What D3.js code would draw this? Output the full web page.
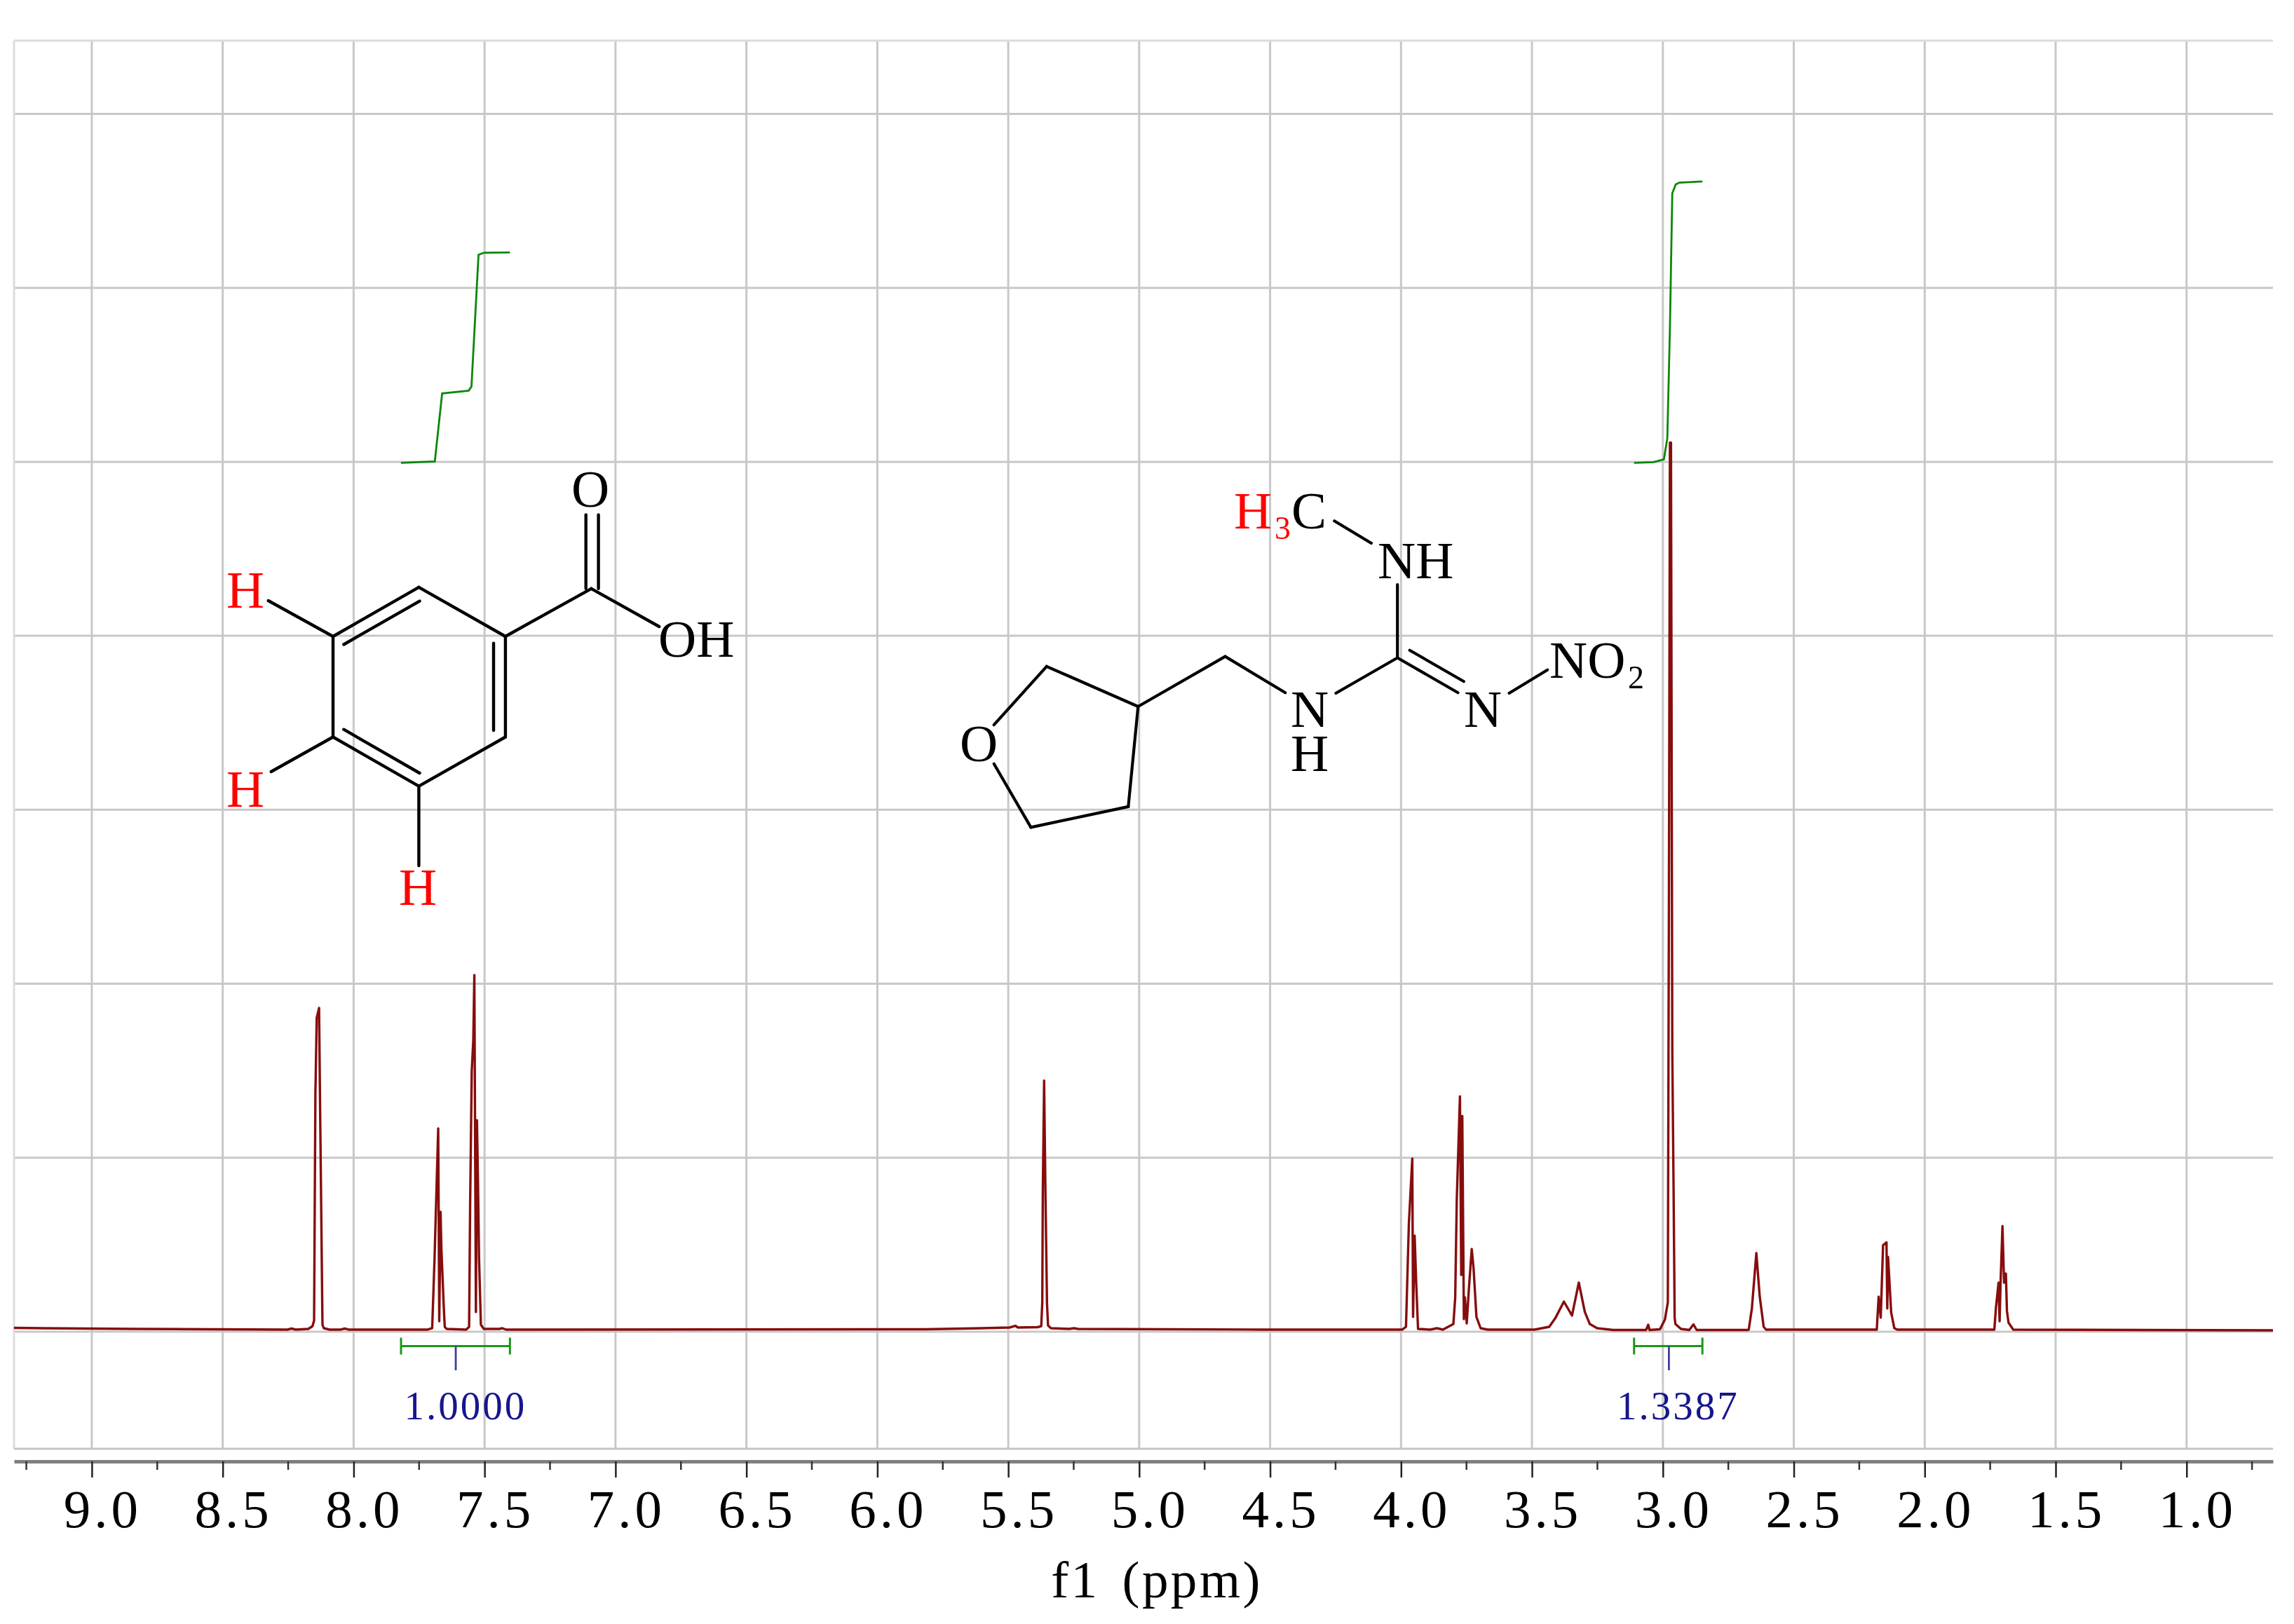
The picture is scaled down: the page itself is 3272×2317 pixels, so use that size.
<!DOCTYPE html>
<html>
<head>
<meta charset="utf-8">
<style>
  html, body { margin: 0; padding: 0; background: #fff; }
  text { font-family: "Liberation Serif", serif; }
</style>
<script src="https://cdn.jsdelivr.net/npm/d3@7"></script>
</head>
<body>
<svg id="espectro"></svg>
<script>
// spectrum: chemical shift and intensity (in grid steps)
const specPpm = [9.297, 9.190, 8.842, 8.547, 8.253, 8.237, 8.221, 8.173, 8.157, 8.151, 8.146, 8.141, 8.132, 8.128, 8.119, 8.114,
  8.092, 8.049, 8.034, 8.020, 7.717, 7.700, 7.691, 7.683, 7.677, 7.673, 7.668, 7.665, 7.656, 7.652, 7.645, 7.570,
  7.559, 7.555, 7.549, 7.543, 7.539, 7.533, 7.529, 7.525, 7.521, 7.514, 7.503, 7.444, 7.432, 7.418, 5.816, 5.602,
  5.495, 5.473, 5.463, 5.388, 5.374, 5.370, 5.368, 5.363, 5.358, 5.352, 5.348, 5.337, 5.267, 5.249, 5.233, 4.531,
  3.995, 3.981, 3.970, 3.957, 3.954, 3.948, 3.942, 3.935, 3.888, 3.863, 3.840, 3.800, 3.793, 3.787, 3.775, 3.770,
  3.766, 3.760, 3.756, 3.749, 3.741, 3.730, 3.723, 3.712, 3.696, 3.669, 3.490, 3.434, 3.411, 3.378, 3.347, 3.321,
  3.298, 3.279, 3.251, 3.190, 3.064, 3.056, 3.051, 3.011, 2.992, 2.981, 2.977, 2.973, 2.969, 2.964, 2.959, 2.955,
  2.952, 2.931, 2.899, 2.883, 2.871, 2.678, 2.672, 2.660, 2.643, 2.630, 2.615, 2.606, 2.183, 2.176, 2.168, 2.159,
  2.146, 2.143, 2.140, 2.128, 2.116, 2.105, 1.734, 1.728, 1.718, 1.714, 1.710, 1.703, 1.697, 1.690, 1.686, 1.680,
  1.662, 0.670];
const specInt = [.022, .020, .016, .014, .012, .018, .012, .016, .032, .064, 1.369, 1.804, 1.861, 1.281, .040, .020,
  .012, .012, .018, .012, .012, .020, .419, .850, 1.168, .060, .689, .483, .149, .028, .016, .012,
  .028, .741, 1.496, 1.675, 2.050, .113, 1.216, .850, .419, .040, .016, .016, .020, .012, .014, .020,
  .024, .034, .024, .026, .032, .169, .805, 1.443, .805, .161, .036, .020, .016, .020, .016, .012,
  .012, .028, .622, .995, .085, .552, .282, .016, .012, .020, .012, .044, .197, .765, 1.353, .326,
  1.240, .072, .197, .048, .242, .475, .366, .085, .020, .012, .012, .028, .077, .173, .093, .282,
  .113, .044, .020, .010, .010, .040, .010, .014, .070, .169, 2.416, 5.111, 5.111, 1.611, .805, .081,
  .044, .016, .010, .042, .010, .010, .012, .134, .452, .201, .028, .012, .012, .201, .081, .497,
  .513, .134, .430, .109, .020, .012, .012, .137, .282, .060, .295, .607, .282, .334, .120, .052,
  .012, .008];

// integral curves
const int1Ppm = [7.819, 7.690, 7.662, 7.561, 7.550, 7.523, 7.502, 7.403];
const int1Val = [4.994, 5.002, 5.393, 5.409, 5.433, 6.190, 6.202, 6.204];
const int2Ppm = [3.110, 3.036, 2.996, 2.983, 2.973, 2.964, 2.951, 2.938, 2.849];
const int2Val = [4.994, 4.998, 5.014, 5.135, 5.772, 6.544, 6.594, 6.605, 6.612];

// integral brackets under the peaks
const bracketFrom = [7.819, 3.110];
const bracketTo = [7.403, 2.849];
const bracketMark = [7.610, 2.977];
const bracketLabelPpm = [7.573, 2.942];
const bracketLabels = ["1.0000", "1.3387"];

// axis
const majorTicks = [9.0, 8.5, 8.0, 7.5, 7.0, 6.5, 6.0, 5.5, 5.0, 4.5, 4.0, 3.5, 3.0, 2.5, 2.0, 1.5, 1.0];
const minorTicks = [9.25, 8.75, 8.25, 7.75, 7.25, 6.75, 6.25, 5.75, 5.25, 4.75, 4.25, 3.75, 3.25, 2.75, 2.25, 1.75, 1.25, 0.75];
const gridSteps = [0, 1, 2, 3, 4, 5, 6, 7];

const width = 3272, height = 2317;
const left = 20, right = 3242, top_ = 58, bottom = 2067, axisY = 2085;

let svg = d3.select("#espectro")
  .attr("width", width)
  .attr("height", height)
  .attr("viewBox", "0 0 " + width + " " + height)
  .style("display", "block");

// the reference is a soft scan, so everything goes through a light blur
svg.append("filter").attr("id", "suave")
  .attr("filterUnits", "userSpaceOnUse")
  .attr("x", 0).attr("y", 0)
  .attr("width", width).attr("height", height)
  .append("feGaussianBlur").attr("stdDeviation", 0.7);

let root = svg.append("g").attr("filter", "url(#suave)");
root.append("rect").attr("width", width).attr("height", height).attr("fill", "#fff");

let x = d3.scaleLinear().domain([9.297, 0.670]).range([left, right]);
let y = d3.scaleLinear().domain([-0.673, 7.421]).range([bottom, top_]);

// grid
let grid = root.append("g");
grid.selectAll("line.v").data(majorTicks).enter().append("line")
  .attr("class", "v")
  .attr("x1", d => x(d)).attr("x2", d => x(d))
  .attr("y1", top_).attr("y2", bottom)
  .attr("stroke", "#c8c8c8").attr("stroke-width", 3);
grid.selectAll("line.h").data(gridSteps).enter().append("line")
  .attr("class", "h")
  .attr("x1", left).attr("x2", right)
  .attr("y1", d => y(d)).attr("y2", d => y(d))
  .attr("stroke", "#c8c8c8").attr("stroke-width", 3);
// frame: top and left are paler than the bottom
grid.append("line").attr("x1", left).attr("x2", right).attr("y1", top_).attr("y2", top_)
  .attr("stroke", "#dcdcdc").attr("stroke-width", 3);
grid.append("line").attr("x1", left).attr("x2", left).attr("y1", top_).attr("y2", bottom)
  .attr("stroke", "#dcdcdc").attr("stroke-width", 3);
grid.append("line").attr("x1", left).attr("x2", right).attr("y1", bottom).attr("y2", bottom)
  .attr("stroke", "#c4c4c4").attr("stroke-width", 3);

// x axis
let axisG = root.append("g").attr("transform", "translate(0," + axisY + ")");
axisG.call(d3.axisBottom(x).tickValues(majorTicks).tickSize(23).tickSizeOuter(0).tickFormat(d3.format(".1f")));
axisG.select(".domain").attr("stroke", "#808080").attr("stroke-width", 5);
axisG.selectAll(".tick line").attr("stroke", "#222").attr("stroke-width", 2.5);
axisG.selectAll(".tick text")
  .attr("fill", "#000")
  .attr("font-family", "Liberation Serif")
  .attr("font-size", 77)
  .attr("letter-spacing", 5)
  .attr("text-anchor", "middle")
  .attr("dx", 15)
  .attr("dy", 0)
  .attr("y", 94);
root.append("g").selectAll("line").data(minorTicks).enter().append("line")
  .attr("x1", d => x(d)).attr("x2", d => x(d))
  .attr("y1", axisY).attr("y2", axisY + 12)
  .attr("stroke", "#333").attr("stroke-width", 2.5);

root.append("text")
  .attr("x", 1650).attr("y", 2279)
  .attr("text-anchor", "middle")
  .attr("font-size", 75).attr("letter-spacing", 3.4).attr("word-spacing", 10)
  .attr("fill", "#000")
  .text("f1 (ppm)");

// spectrum
let linha = d3.line().x(d => x(d[0])).y(d => y(d[1]));
root.append("path")
  .attr("d", linha(d3.zip(specPpm, specInt)))
  .attr("fill", "none")
  .attr("stroke", "#860d0d")
  .attr("stroke-width", 3.4)
  .attr("stroke-linejoin", "round");

// integral curves
[[int1Ppm, int1Val], [int2Ppm, int2Val]].forEach(function(c){
  root.append("path")
    .attr("d", linha(d3.zip(c[0], c[1])))
    .attr("fill", "none")
    .attr("stroke", "#0a860a")
    .attr("stroke-width", 2.8);
});

// integral brackets with their values
const bracketY = 1920.5;
bracketLabels.forEach(function(label, i){
  let g = root.append("g");
  g.append("line").attr("x1", x(bracketFrom[i])).attr("x2", x(bracketTo[i]))
    .attr("y1", bracketY).attr("y2", bracketY);
  g.append("line").attr("x1", x(bracketFrom[i])).attr("x2", x(bracketFrom[i]))
    .attr("y1", bracketY - 12).attr("y2", bracketY + 12);
  g.append("line").attr("x1", x(bracketTo[i])).attr("x2", x(bracketTo[i]))
    .attr("y1", bracketY - 12).attr("y2", bracketY + 12);
  g.selectAll("line").attr("stroke", "#1f961f").attr("stroke-width", 3);
  root.append("line").attr("x1", x(bracketMark[i])).attr("x2", x(bracketMark[i]))
    .attr("y1", bracketY).attr("y2", 1955)
    .attr("stroke", "#3a3f9e").attr("stroke-width", 2.8);
  root.append("text")
    .attr("x", x(bracketLabelPpm[i])).attr("y", 2024.5)
    .attr("text-anchor", "middle")
    .attr("font-size", 57).attr("letter-spacing", 3)
    .attr("fill", "#12128c")
    .text(label);
});

// molecule drawings, placed by hand over the plot
function bonds(list, w){
  root.append("g").selectAll("line").data(list).enter().append("line")
    .attr("x1", d => d[0]).attr("y1", d => d[1])
    .attr("x2", d => d[2]).attr("y2", d => d[3])
    .attr("stroke", "#000").attr("stroke-width", w)
    .attr("stroke-linecap", "round");
}
function atom(t, px, py, cor, size){
  root.append("text").attr("x", px).attr("y", py)
    .attr("font-size", size || 75).attr("fill", cor || "#000").text(t);
}

// benzoic acid
bonds([
  [597.4, 837.9, 720.9, 908], [720.9, 908, 720.9, 1051.5], [720.9, 1051.5, 597.4, 1121.7],
  [597.4, 1121.7, 475, 1051.5], [475, 1051.5, 475, 908], [475, 908, 597.4, 837.9],
  [490.3, 919.5, 598.5, 857.6], [704, 917.6, 704, 1042], [490.3, 1040.7, 598.5, 1103],
  [720.9, 908, 843.4, 839.8], [835.7, 839.8, 835.7, 734.5], [853.6, 839.8, 853.6, 734.5],
  [843.4, 839.8, 940.3, 894],
  [475, 908, 382.7, 857], [475, 1051.5, 386.7, 1101], [597.4, 1121.7, 597.4, 1235]
], 4.4);
atom("H", 323, 867, "#ff0000");
atom("H", 323, 1151, "#ff0000");
atom("H", 569, 1291, "#ff0000");
atom("O", 815, 723);
atom("OH", 939, 937);

// nitroguanidine side
bonds([
  [1417.7, 1034.2, 1492.8, 950.8], [1492.8, 950.8, 1623.3, 1008], [1623.3, 1008, 1609.3, 1150.9],
  [1609.3, 1150.9, 1470.4, 1180.4], [1470.4, 1180.4, 1417.7, 1089.7],
  [1623.3, 1008, 1747.5, 936.6], [1747.5, 936.6, 1833.2, 988.3],
  [1905.4, 989, 1993.2, 938.5], [1993.2, 938.5, 1993.2, 834],
  [1993.2, 938.5, 2079.5, 988.3], [2010.7, 927.8, 2087.9, 972.2],
  [2152.5, 989, 2207.2, 955.7], [1903.3, 743.3, 1956, 775]
], 4.2);
atom("H", 1760, 754, "#ff0000");
atom("3", 1818, 769, "#ff0000", 46);
atom("C", 1842, 754);
atom("NH", 1965, 825);
atom("N", 1841, 1037);
atom("H", 1841, 1100);
atom("N", 2088, 1037);
atom("NO", 2210, 967);
atom("2", 2322, 982, "#000", 46);
atom("O", 1369, 1086);
</script>
</body>
</html>
